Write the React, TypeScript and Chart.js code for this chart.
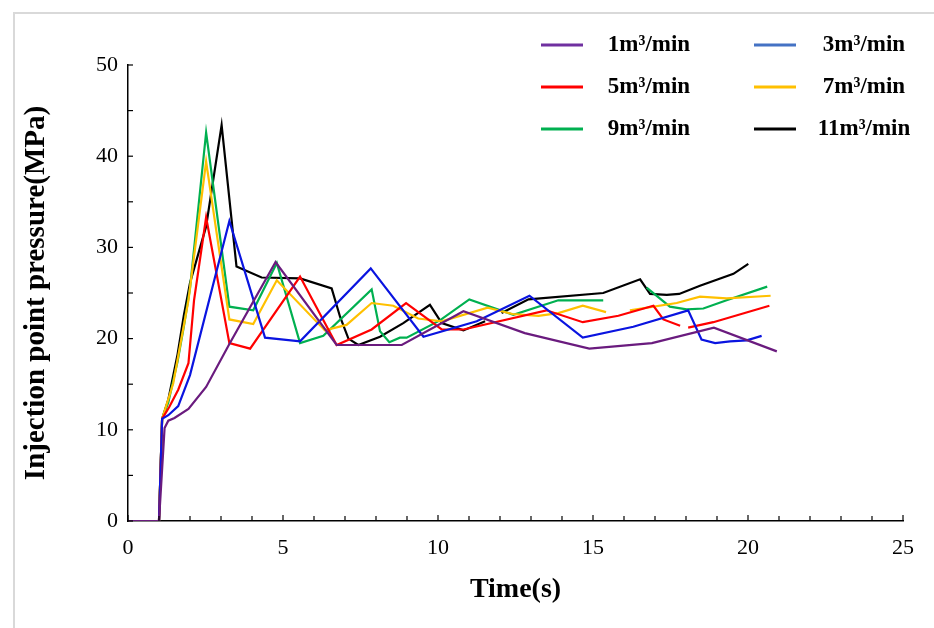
import React, { useEffect, useRef } from 'react';
import { Chart, registerables } from 'chart.js';

Chart.register(...registerables);

// ---------- data ----------
const seriesLabels = ['1m³/min', '3m³/min', '5m³/min', '7m³/min', '9m³/min', '11m³/min'];
const lineColors = ['#6A1B7E', '#0A14E0', '#FF0000', '#FFC000', '#00B050', '#000000'];
const legendColors = ['#7030A0', '#4472C4', '#FF0000', '#FFC000', '#00B050', '#000000'];

const time1 = [0, 1.0, 1.18, 1.3, 1.5, 1.95, 2.52, 3.27, 4.76, 6.73, 8.83, 10.82, 12.8, 14.88, 16.9, 18.9, 20.93];
const pressure1 = [0, 0, 10.2, 11.0, 11.3, 12.3, 14.7, 19.4, 28.4, 19.3, 19.3, 23.0, 20.6, 18.9, 19.5, 21.2, 18.6];

const time3 = [0, 1.0, 1.1, 1.3, 1.62, 2.0, 3.27, 4.42, 5.55, 7.83, 9.53, 11.25, 12.95, 14.67, 16.3, 18.07, 18.5, 18.94, 19.42, 19.96, 20.44];
const pressure3 = [0, 0, 11.2, 11.6, 12.6, 16.0, 32.9, 20.1, 19.7, 27.7, 20.2, 21.9, 24.7, 20.1, 21.3, 23.1, 19.9, 19.5, 19.7, 19.8, 20.3];

const time5 = [0, 1.0, 1.1, 1.33, 1.62, 1.95, 2.13, 2.52, 3.27, 3.94, 5.55, 6.73, 7.86, 8.97, 10.12, 10.82, 13.5, 14.67, 15.82, 16.95, 17.27, 17.81, 17.9, 18.07, 18.88, 20.69];
const pressure5 = [0, 0, 11.2, 12.5, 14.4, 17.3, 24.2, 33.3, 19.5, 18.9, 26.8, 19.3, 21.0, 23.9, 21.0, 21.0, 23.1, 21.8, 22.5, 23.6, 22.1, 21.4, null, 21.2, 21.8, 23.6];

const time7 = [0, 1.0, 1.1, 1.46, 1.95, 2.52, 3.27, 4.04, 4.8, 6.35, 7.05, 7.86, 8.56, 9.36, 10.12, 11.6, 12.4, 13.24, 13.88, 14.67, 15.42, 15.8, 16.19, 17.7, 18.45, 19.31, 20.73];
const pressure7 = [0, 0, 11.2, 15.1, 24.2, 39.4, 22.1, 21.6, 26.4, 20.9, 21.5, 23.9, 23.6, 22.2, 21.9, 23.4, 22.7, 22.5, 22.8, 23.6, 22.9, null, 23.1, 23.9, 24.6, 24.4, 24.7];

const time9 = [0, 1.0, 1.1, 1.3, 1.6, 1.8, 2.0, 2.52, 3.27, 4.04, 4.8, 5.55, 6.3, 7.86, 8.13, 8.43, 8.77, 8.99, 10.06, 11.01, 12.43, 13.88, 15.33, 16.0, 16.73, 17.48, 18.02, 18.56, 19.31, 20.62];
const pressure9 = [0, 0, 11.2, 13.0, 17.5, 21.3, 25.5, 42.6, 23.5, 23.1, 28.3, 19.5, 20.3, 25.4, 20.8, 19.6, 20.1, 20.1, 22.0, 24.3, 22.6, 24.2, 24.2, null, 25.6, 23.5, 23.2, 23.3, 24.2, 25.7];

const time11 = [0, 1.0, 1.1, 1.3, 1.6, 1.8, 2.0, 2.52, 3.02, 3.5, 4.31, 5.55, 6.57, 6.84, 7.11, 7.43, 8.13, 8.88, 9.74, 10.12, 10.82, 11.52, 11.8, 12.05, 12.92, 15.33, 16.52, 16.84, 17.38, 17.78, 18.45, 19.53, 20.01];
const pressure11 = [0, 0, 11.2, 13.3, 18.3, 22.5, 26.1, 32.3, 43.4, 27.9, 26.7, 26.6, 25.5, 22.4, 20.0, 19.3, 20.2, 21.7, 23.7, 21.7, 20.9, 21.9, null, 22.8, 24.3, 25.0, 26.5, 24.9, 24.8, 24.9, 25.8, 27.1, 28.2];

const seriesTimes = [time1, time3, time5, time7, time9, time11];
const seriesPressures = [pressure1, pressure3, pressure5, pressure7, pressure9, pressure11];

const xMin = 0;
const xMax = 25;
const xMajorStep = 5;
const xMinorStep = 1;
const yMin = 0;
const yMax = 50;
const yTickStep = 5;
const yLabelStep = 10;

const xTitle = 'Time(s)';
const yTitle = 'Injection point pressure(MPa)';

const FONT = "'Times New Roman', 'Liberation Serif', serif";

const customPlugin = {
  id: 'customDecor',
  afterDraw(chart: any) {
    const ctx = chart.ctx;
    const xs = chart.scales.x;
    const ys = chart.scales.y;
    ctx.save();
    ctx.strokeStyle = '#000';
    ctx.lineWidth = 1.2;
    // inside tick marks on x axis
    for (let v = xMin; v <= xMax + 1e-9; v += xMinorStep) {
      const px = xs.getPixelForValue(v);
      const len = Math.abs(v % xMajorStep) < 1e-9 ? 6 : 5;
      ctx.beginPath();
      ctx.moveTo(px, xs.top);
      ctx.lineTo(px, xs.top - len);
      ctx.stroke();
    }
    // inside tick marks on y axis
    ys.ticks.forEach((t: any) => {
      const py = ys.getPixelForValue(t.value);
      ctx.beginPath();
      ctx.moveTo(ys.right, py);
      ctx.lineTo(ys.right + 5, py);
      ctx.stroke();
    });
    // legend (2 columns x 3 rows)
    const colLineX = [541, 754];
    const colTextX = [649, 864];
    const rowY = [45, 87, 129];
    ctx.font = `bold 23px ${FONT}`;
    ctx.textAlign = 'center';
    ctx.textBaseline = 'middle';
    seriesLabels.forEach((label, i) => {
      const col = i % 2;
      const row = Math.floor(i / 2);
      const y = rowY[row];
      ctx.strokeStyle = legendColors[i];
      ctx.lineWidth = 3;
      ctx.beginPath();
      ctx.moveTo(colLineX[col], y);
      ctx.lineTo(colLineX[col] + 42, y);
      ctx.stroke();
      ctx.fillStyle = '#000';
      ctx.fillText(label, colTextX[col], y);
    });
    ctx.restore();
  },
};

export default function App() {
  const canvasRef = useRef<HTMLCanvasElement | null>(null);

  useEffect(() => {
    if (!canvasRef.current) return;
    const datasets = seriesLabels.map((label, i) => ({
      label,
      data: seriesTimes[i].map((t, j) => ({ x: t, y: seriesPressures[i][j] })),
      borderColor: lineColors[i],
      backgroundColor: lineColors[i],
      borderWidth: 2.2,
      pointRadius: 0,
      tension: 0,
      spanGaps: false,
      fill: false,
    }));

    const chart = new Chart(canvasRef.current, {
      type: 'line',
      data: { datasets },
      options: {
        animation: false,
        responsive: false,
        maintainAspectRatio: false,
        layout: { padding: { left: 0, top: 65, right: 31, bottom: 0 } },
        plugins: {
          legend: { display: false },
          tooltip: { enabled: false },
        },
        scales: {
          x: {
            type: 'linear',
            min: xMin,
            max: xMax,
            ticks: {
              stepSize: xMajorStep,
              color: '#000',
              font: { family: FONT, size: 22 },
              padding: 14,
              maxRotation: 0,
              autoSkip: false,
            },
            grid: { display: false, drawTicks: false, tickLength: 0 },
            border: { display: true, color: '#000', width: 1.5 },
            title: {
              display: true,
              text: xTitle,
              color: '#000',
              font: { family: FONT, size: 28, weight: 'bold' },
              padding: { top: 0, bottom: 21 },
            },
            afterFit: (s: any) => {
              s.height = 107;
            },
          },
          y: {
            type: 'linear',
            min: yMin,
            max: yMax,
            ticks: {
              stepSize: yTickStep,
              color: '#000',
              font: { family: FONT, size: 22 },
              padding: 10,
              autoSkip: false,
              callback: (v: any) => (Number(v) % yLabelStep === 0 ? String(v) : ''),
            },
            grid: { display: false, drawTicks: false, tickLength: 0 },
            border: { display: true, color: '#000', width: 1.5 },
            title: {
              display: true,
              text: yTitle,
              color: '#000',
              font: { family: FONT, size: 29, weight: 'bold' },
              padding: { top: 19, bottom: 0 },
            },
            afterFit: (s: any) => {
              s.width = 128;
            },
          },
        },
      } as any,
      plugins: [customPlugin],
    });
    return () => chart.destroy();
  }, []);

  return (
    <div style={{ position: 'absolute', left: 0, top: 0, width: 934, height: 628, background: '#fff', overflow: 'hidden' }}>
      <div
        style={{
          position: 'absolute',
          left: 13,
          top: 12,
          right: -10,
          bottom: -10,
          borderLeft: '2px solid #d9d9d9',
          borderTop: '2px solid #d9d9d9',
        }}
      />
      <canvas ref={canvasRef} width={934} height={628} style={{ position: 'absolute', left: 0, top: 0, width: 934, height: 628 }} />
    </div>
  );
}
